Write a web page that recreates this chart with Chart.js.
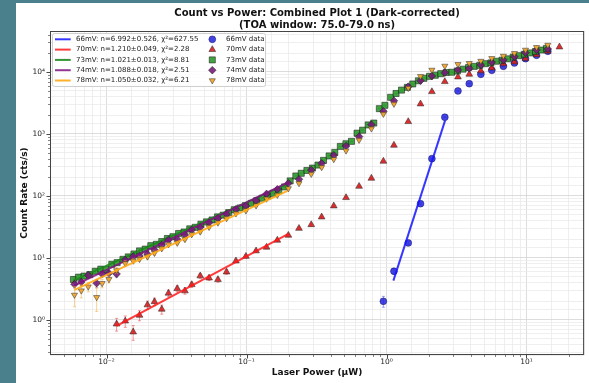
<!DOCTYPE html>
<html>
<head>
<meta charset="utf-8">
<script src="https://cdn.jsdelivr.net/npm/chart.js@4"></script>
<title>Count vs Power</title>
<style>
  body { margin: 0; background: #4a7f8c; }
  #wrap { position: absolute; left: 16px; top: 3px; width: 573px; height: 380px; background: #fff; }
</style>
</head>
<body>
<div id="wrap"><canvas id="myChart" width="573" height="380"></canvas></div>
<script>
// laser power (uW) and dark-corrected count rate (cts/s) per bias voltage
const power66 = [0.95, 1.13, 1.43, 1.75, 2.11, 2.61, 3.24, 3.90, 4.72, 5.65, 6.84, 8.20, 9.84, 11.8, 14.2];
const rate66  = [2.0, 6.1, 17.5, 75, 400, 1860, 4940, 6470, 9180, 10650, 12360, 13970, 16400, 18600, 21600];
const err66   = [0.4, 0.6, 1.0, 2.2, 5, 11, 18, 20, 24, 26, 28, 30, 32, 34, 37];

const power70 = [0.0118, 0.0136, 0.0155, 0.0172, 0.0196, 0.0220, 0.0248, 0.0277, 0.0320, 0.0363,
                 0.0406, 0.0467, 0.0540, 0.0625, 0.0720, 0.0840, 0.0990, 0.117, 0.139, 0.166,
                 0.199, 0.237, 0.290, 0.344, 0.420, 0.514, 0.637, 0.780, 0.950, 1.13,
                 1.43, 1.75, 2.11, 2.61, 3.24, 3.90, 4.72, 5.65, 6.84, 8.20,
                 9.84, 11.8, 14.2, 17.2];
const rate70  = [0.86, 0.96, 0.64, 1.19, 1.75, 1.97, 1.49, 2.7, 3.2, 2.94,
                 3.71, 5.13, 4.75, 4.47, 5.94, 8.95, 10.6, 13.0, 14.9, 19.3,
                 23.2, 30.0, 34.4, 45.8, 69, 94, 143, 193, 363, 658,
                 1580, 3050, 4810, 6980, 8300, 9180, 10400, 11600, 13500, 14500,
                 16500, 19000, 21500, 25300];
const err70   = [0.2, 0.2, 0.17, 0.22, 0.27, 0.28, 0.25, 0.33, 0.36, 0.34,
                 0.38, 0.45, 0.43, 0.42, 0.49, 0.6, 0.65, 0.72, 0.78, 0.88,
                 0.97, 1.1, 1.2, 1.35, 1.7, 2.0, 2.4, 2.8, 3.9, 5.2,
                 8.1, 11, 14, 17, 18, 19, 20, 22, 23, 24,
                 26, 28, 29, 32];

const power73 = [0.0058, 0.0063, 0.0069, 0.0076, 0.0083, 0.0091, 0.0099, 0.0109, 0.0119, 0.0131,
                 0.0143, 0.0157, 0.0172, 0.0189, 0.0207, 0.0227, 0.0248, 0.0272, 0.0298, 0.0327,
                 0.0358, 0.0393, 0.0430, 0.0472, 0.0517, 0.0567, 0.0621, 0.0681, 0.0746, 0.0818,
                 0.0897, 0.0983, 0.108, 0.118, 0.129, 0.142, 0.155, 0.170, 0.187, 0.205,
                 0.225, 0.246, 0.270, 0.296, 0.324, 0.355, 0.389, 0.427, 0.468, 0.513,
                 0.562, 0.616, 0.675, 0.740, 0.811, 0.889, 0.974, 1.07, 1.17, 1.28,
                 1.41, 1.54, 1.69, 1.85, 2.03, 2.23, 2.44, 2.67, 2.93, 3.21,
                 3.52, 3.86, 4.23, 4.64, 5.08, 5.57, 6.11, 6.69, 7.34, 8.04,
                 8.81, 9.66, 10.6, 11.6, 12.7, 13.9];
const rate73  = [4.5, 4.9, 5.1, 5.4, 6.1, 6.6, 6.5, 7.9, 8.4, 9.5,
                 10.4, 11.6, 13.0, 13.9, 15.8, 16.6, 18.4, 20.6, 22.0, 24.8,
                 26.2, 29.5, 31.2, 35.0, 38.2, 41.0, 46.0, 49.0, 54.0, 60.0,
                 64, 70, 76, 84, 92, 100, 110, 122, 140, 175,
                 210, 232, 258, 282, 315, 375, 442, 505, 630, 695,
                 760, 1030, 1150, 1400, 1500, 2560, 2900, 3900, 4500, 5100,
                 5650, 6400, 7200, 7900, 8500, 8850, 9400, 9800, 9900, 10400,
                 11100, 11800, 12300, 12800, 13600, 14000, 14900, 15500, 16300, 17400,
                 18300, 19300, 20300, 21400, 22600, 24000];
const err73   = [0.45, 0.45, 0.5, 0.5, 0.5, 0.55, 0.55, 0.6, 0.6, 0.65,
                 0.65, 0.7, 0.75, 0.75, 0.8, 0.8, 0.85, 0.9, 0.95, 1.0,
                 1.0, 1.1, 1.1, 1.2, 1.25, 1.3, 1.4, 1.4, 1.5, 1.6,
                 1.6, 1.7, 1.8, 1.9, 2.0, 2.1, 2.2, 2.3, 2.5, 2.8,
                 3.0, 3.2, 3.4, 3.5, 3.7, 4.1, 4.4, 4.7, 5.3, 5.5,
                 5.8, 6.7, 7.1, 7.8, 8.1, 11, 12, 13, 14, 15,
                 16, 17, 18, 19, 19, 20, 20, 21, 21, 21,
                 22, 23, 23, 24, 24, 25, 26, 26, 27, 28,
                 29, 29, 30, 31, 32, 33];

// 74 mV and 78 mV share the same power sweep
const powerSweep = [0.0059, 0.0066, 0.0074, 0.0085, 0.0093, 0.0104, 0.0118, 0.0136, 0.0155, 0.0172,
                    0.0196, 0.0220, 0.0248, 0.0277, 0.0320, 0.0363, 0.0406, 0.0467, 0.0540, 0.0625,
                    0.0720, 0.0840, 0.0990, 0.117, 0.139, 0.166, 0.199, 0.237, 0.290, 0.344,
                    0.420, 0.514, 0.637, 0.780, 0.950, 1.13, 1.43, 1.75, 2.11, 2.61,
                    3.24, 3.90, 4.72, 5.65, 6.84, 8.20, 9.84, 11.8, 14.2];
const rate74  = [3.77, 4.1, 5.26, 3.91, 5.52, 5.67, 5.5, 9.3, 10.5, 10.8,
                 11.6, 13.5, 16.2, 19.5, 20.0, 23.5, 28.3, 31.3, 37.2, 43.7,
                 51.3, 61, 69, 84, 108, 128, 160, 186, 262, 336,
                 453, 640, 906, 1413, 2320, 3440, 5800, 7240, 8620, 9750,
                 10770, 11460, 12970, 14320, 15630, 17660, 20500, 22650, 23500];
const err74   = [0.5, 0.5, 0.55, 0.6, 0.55, 0.55, 0.6, 0.7, 0.75, 0.75,
                 0.8, 0.85, 0.95, 1.0, 1.0, 1.1, 1.2, 1.3, 1.4, 1.5,
                 1.6, 1.8, 1.9, 2.1, 2.4, 2.6, 2.9, 3.2, 3.8, 4.3,
                 5, 6, 7, 9, 11, 14, 18, 20, 22, 23,
                 24, 25, 26, 28, 29, 31, 33, 35, 36];
const rate78  = [2.53, 2.97, 3.44, 2.32, 3.9, 4.53, 6.3, 8.2, 9.0, 9.6,
                 10.5, 12.0, 14.2, 16.5, 17.5, 20.0, 24.0, 26.5, 31.5, 37.0,
                 43.5, 52, 58, 70, 90, 104, 132, 160, 226, 290,
                 391, 538, 800, 1220, 2100, 3050, 5500, 8500, 10770, 12500,
                 13300, 13800, 15000, 16600, 18100, 20000, 22650, 25000, 27200];
const err78   = [0.9, 0.7, 0.6, 0.95, 0.6, 0.6, 0.7, 0.8, 0.8, 0.85,
                 0.9, 0.95, 1.0, 1.1, 1.1, 1.2, 1.3, 1.4, 1.5, 1.6,
                 1.8, 1.9, 2.0, 2.2, 2.5, 2.7, 3.0, 3.3, 3.9, 4.4,
                 5.1, 6, 7.3, 9, 12, 14, 19, 23, 26, 28,
                 29, 30, 31, 33, 34, 36, 38, 40, 42];

// power-law fits: rate = A * P^n over the fitted power range
const voltages = ['66mV', '70mV', '73mV', '74mV', '78mV'];
const fitN     = [6.992, 1.210, 1.021, 1.088, 1.050];
const fitNErr  = [0.526, 0.049, 0.013, 0.018, 0.032];
const chiSq    = [627.55, 2.28, 8.81, 2.51, 6.21];
const fitAmp   = [1.95, 172, 826, 960, 669];
const fitFrom  = [1.12, 0.0118, 0.0058, 0.0059, 0.0059];
const fitTo    = [2.62, 0.199, 0.2, 0.2, 0.196];

const powers = [power66, power70, power73, powerSweep, powerSweep];
const rates  = [rate66, rate70, rate73, rate74, rate78];
const errs   = [err66, err70, err73, err74, err78];

const styles = [
  { line: 'rgba(20,20,255,0.85)', fill: 'rgba(35,35,225,0.85)', edge: 'rgba(20,20,110,0.9)', err: 'rgba(60,60,230,0.45)', shape: 'circle', r: 3.4, rot: 0 },
  { line: 'rgba(255,25,25,0.85)', fill: 'rgba(220,30,30,0.9)', edge: 'rgba(40,40,40,0.9)', err: 'rgba(235,70,70,0.55)', shape: 'triangle', r: 3.9, rot: 0 },
  { line: 'rgba(30,135,30,0.9)', fill: 'rgba(40,150,40,0.88)', edge: 'rgba(25,25,25,0.9)', err: 'rgba(60,160,60,0.5)', shape: 'rect', r: 4.3, rot: 0 },
  { line: 'rgba(128,20,128,0.85)', fill: 'rgba(118,28,120,0.9)', edge: 'rgba(30,30,30,0.9)', err: 'rgba(140,60,140,0.5)', shape: 'rectRot', r: 3.8, rot: 0 },
  { line: 'rgba(255,170,20,0.9)', fill: 'rgba(242,165,40,0.92)', edge: 'rgba(50,50,50,0.9)', err: 'rgba(245,175,60,0.55)', shape: 'triangle', r: 3.5, rot: 180 }
];

const FONT = 'DejaVu Sans';
const sup = { '-': '⁻', '0': '⁰', '1': '¹', '2': '²', '3': '³', '4': '⁴', '5': '⁵', '6': '⁶', '7': '⁷', '8': '⁸', '9': '⁹' };

function decade(v) {
  const e = Math.log10(v);
  const r = Math.round(e);
  return Math.abs(e - r) < 1e-6 ? r : null;
}
function decadeLabel(v) {
  const e = decade(v);
  if (e === null) return '';
  return '10' + String(e).split('').map(c => sup[c]).join('');
}
function onLogGrid(v) {
  const e = Math.floor(Math.log10(v) + 1e-9);
  const m = v / Math.pow(10, e);
  return Math.abs(m - Math.round(m)) < 1e-6;
}

const datasets = [];
voltages.forEach((v, i) => {
  const s = styles[i];
  datasets.push({
    label: v + ' data',
    data: powers[i].map((p, j) => ({ x: p, y: rates[i][j] })),
    errors: errs[i],
    errorColor: s.err,
    showLine: false,
    pointStyle: s.shape,
    pointRadius: s.r,
    pointRotation: s.rot,
    backgroundColor: s.fill,
    borderColor: s.edge,
    pointBorderWidth: 0.6,
    order: 20 - 2 * i
  });
  const n = fitN[i], A = fitAmp[i];
  datasets.push({
    label: v + ': n=' + n.toFixed(3) + '±' + fitNErr[i].toFixed(3) + ', χ²=' + chiSq[i].toFixed(2),
    data: [{ x: fitFrom[i], y: A * Math.pow(fitFrom[i], n) }, { x: fitTo[i], y: A * Math.pow(fitTo[i], n) }],
    isFit: true,
    showLine: true,
    fill: false,
    pointRadius: 0,
    borderColor: s.line,
    borderWidth: 2,
    order: 19 - 2 * i
  });
});

// error bars are drawn just before each data series' markers
const errorBars = {
  id: 'errorBars',
  beforeDatasetDraw(chart, args) {
    const ds = chart.data.datasets[args.index];
    if (!ds.errors) return;
    const { ctx, chartArea: a, scales: { x, y } } = chart;
    ctx.save();
    ctx.beginPath();
    ctx.rect(a.left, a.top, a.right - a.left, a.bottom - a.top);
    ctx.clip();
    ctx.strokeStyle = ds.errorColor;
    ctx.lineWidth = 1;
    ds.data.forEach((p, i) => {
      const e = ds.errors[i];
      const px = x.getPixelForValue(p.x);
      const top = y.getPixelForValue(p.y + e);
      const bot = y.getPixelForValue(Math.max(p.y - e, y.min));
      ctx.beginPath();
      ctx.moveTo(px, top); ctx.lineTo(px, bot);
      ctx.moveTo(px - 1.5, top); ctx.lineTo(px + 1.5, top);
      ctx.moveTo(px - 1.5, bot); ctx.lineTo(px + 1.5, bot);
      ctx.stroke();
    });
    ctx.restore();
  }
};

// plot frame and outward tick marks (long on decades, short in between)
const frameTicks = {
  id: 'frameTicks',
  afterDatasetsDraw(chart) {
    const { ctx, chartArea: a, scales: { x, y } } = chart;
    ctx.save();
    ctx.strokeStyle = '#333';
    x.ticks.forEach(t => {
      if (!onLogGrid(t.value)) return;
      const px = Math.round(x.getPixelForValue(t.value)) + 0.5;
      const major = decade(t.value) !== null;
      ctx.lineWidth = major ? 0.9 : 0.6;
      ctx.beginPath(); ctx.moveTo(px, a.bottom); ctx.lineTo(px, a.bottom + (major ? 3.5 : 2)); ctx.stroke();
    });
    y.ticks.forEach(t => {
      if (!onLogGrid(t.value)) return;
      const py = Math.round(y.getPixelForValue(t.value)) + 0.5;
      const major = decade(t.value) !== null;
      ctx.lineWidth = major ? 0.9 : 0.6;
      ctx.beginPath(); ctx.moveTo(a.left, py); ctx.lineTo(a.left - (major ? 3.5 : 2), py); ctx.stroke();
    });
    ctx.lineWidth = 1;
    ctx.strokeStyle = '#444';
    ctx.strokeRect(a.left + 0.5, a.top + 0.5, a.right - a.left - 1, a.bottom - a.top - 1);
    ctx.restore();
  }
};

// two-column legend: fit lines on the left, data markers on the right
const fitLegend = {
  id: 'fitLegend',
  afterDraw(chart) {
    const { ctx, chartArea: a } = chart;
    const fits = chart.data.datasets.filter(d => d.isFit);
    const pts = chart.data.datasets.filter(d => !d.isFit);
    const bx = a.left + 2.5, by = a.top + 2.5, bw = 213, bh = 53;
    ctx.save();
    ctx.fillStyle = 'rgba(255,255,255,0.85)';
    ctx.strokeStyle = '#cfcfcf';
    ctx.lineWidth = 1;
    ctx.beginPath();
    ctx.roundRect(bx, by, bw, bh, 2);
    ctx.fill();
    ctx.stroke();
    ctx.font = '7px "' + FONT + '"';
    ctx.textBaseline = 'middle';
    ctx.textAlign = 'left';
    for (let i = 0; i < fits.length; i++) {
      const ry = a.top + 8.3 + i * 10.3;
      ctx.strokeStyle = fits[i].borderColor;
      ctx.lineWidth = 2;
      ctx.beginPath(); ctx.moveTo(a.left + 5, ry); ctx.lineTo(a.left + 20.7, ry); ctx.stroke();
      ctx.fillStyle = '#222';
      ctx.fillText(fits[i].label, a.left + 26, ry);

      const p = pts[i];
      ctx.fillStyle = p.backgroundColor;
      ctx.strokeStyle = p.borderColor;
      ctx.lineWidth = p.pointBorderWidth;
      Chart.helpers.drawPoint(ctx, { pointStyle: p.pointStyle, radius: p.pointRadius, rotation: p.pointRotation, borderWidth: p.pointBorderWidth }, a.left + 162.3, ry);
      ctx.fillStyle = '#222';
      ctx.fillText(p.label, a.left + 176, ry);
    }
    ctx.restore();
  }
};

const gridColor = (c) => (c.tick && decade(c.tick.value) !== null ? '#d4d4d4' : '#ebebeb');

const config = {
  type: 'scatter',
  data: { datasets: datasets },
  plugins: [errorBars, frameTicks, fitLegend],
  options: {
    responsive: false,
    animation: false,
    layout: { padding: { left: 0, right: 1, top: 0, bottom: 0 } },
    plugins: {
      legend: { display: false },
      tooltip: { enabled: false },
      title: {
        display: true,
        fullSize: false,
        text: ['Count vs Power: Combined Plot 1 (Dark-corrected)', '(TOA window: 75.0-79.0 ns)'],
        color: '#111',
        font: { family: FONT, size: 10, weight: 'bold', lineHeight: 1.2 },
        padding: { top: 4, bottom: 0 }
      }
    },
    scales: {
      x: {
        type: 'logarithmic',
        min: 0.003945,
        max: 25.8,
        afterFit: (s) => { s.height = 28; },
        grid: { color: gridColor, lineWidth: 0.8, drawTicks: false },
        border: { display: false },
        ticks: {
          autoSkip: false, maxRotation: 0, padding: 3, color: '#222',
          font: { family: FONT, size: 7.5 },
          callback: (v) => decadeLabel(v)
        },
        title: {
          display: true, text: 'Laser Power (μW)', color: '#111',
          font: { family: FONT, size: 9, weight: 'bold', lineHeight: 1.2 },
          padding: { top: 0, bottom: 4.6 }
        }
      },
      y: {
        type: 'logarithmic',
        min: 0.272,
        max: 45800,
        afterFit: (s) => { s.width = 34; },
        grid: { color: gridColor, lineWidth: 0.8, drawTicks: false },
        border: { display: false },
        ticks: {
          autoSkip: false, padding: 5, color: '#222',
          font: { family: FONT, size: 7.5 },
          callback: (v) => decadeLabel(v)
        },
        title: {
          display: true, text: 'Count Rate (cts/s)', color: '#111',
          font: { family: FONT, size: 9, weight: 'bold', lineHeight: 1.2 },
          padding: { top: 3.6, bottom: 0 }
        }
      }
    }
  }
};

const myChart = new Chart(document.getElementById('myChart'), config);
</script>
</body>
</html>
